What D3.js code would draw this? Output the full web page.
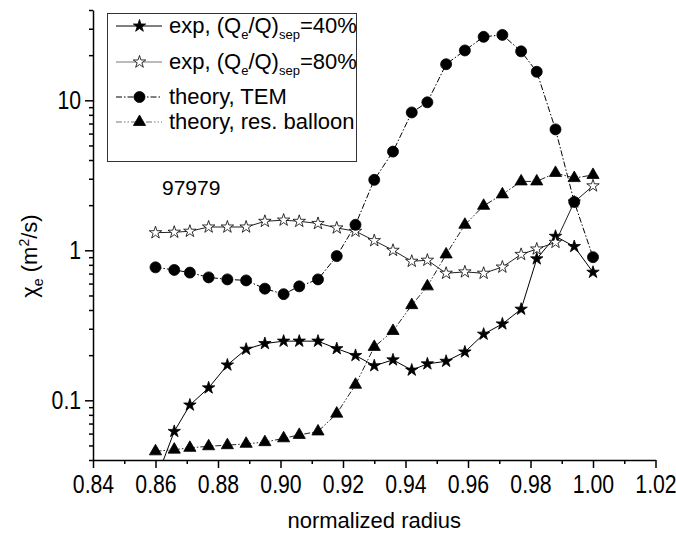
<!DOCTYPE html>
<html>
<head>
<meta charset="utf-8">
<script src="https://cdn.jsdelivr.net/npm/d3@7/dist/d3.min.js"></script>
<style>
  body { margin: 0; background: #fff; }
  #chiGraph { width: 676px; height: 536px; }
  svg { display: block; font-family: Arial, "Liberation Sans", sans-serif; }
</style>
</head>
<body>
<div id="chiGraph"></div>
<script>
/* global d3 */

// normalized radius of every point (same grid for all four curves)
var radius = [0.860, 0.866, 0.871, 0.877, 0.883, 0.889, 0.895, 0.901, 0.906, 0.912,
              0.918, 0.924, 0.930, 0.936, 0.942, 0.947, 0.953, 0.959, 0.965, 0.971,
              0.977, 0.982, 0.988, 0.994, 1.000];
// chi_e (m^2/s)
var exp40 = [0.029, 0.062, 0.093, 0.121, 0.172, 0.219, 0.239, 0.248, 0.248, 0.248,
             0.221, 0.199, 0.170, 0.186, 0.159, 0.175, 0.182, 0.210, 0.276, 0.323,
             0.405, 0.877, 1.24, 1.06, 0.714];
var exp80 = [1.31, 1.32, 1.34, 1.43, 1.43, 1.43, 1.56, 1.59, 1.56, 1.51,
             1.41, 1.34, 1.16, 1.00, 0.845, 0.859, 0.703, 0.718, 0.703, 0.773,
             0.939, 1.02, 1.13, 2.1, 2.69];
var tem = [0.77, 0.74, 0.71, 0.66, 0.64, 0.63, 0.555, 0.51, 0.575, 0.64,
           0.915, 1.48, 2.95, 4.55, 8.3, 9.7, 17.4, 21.5, 26.5, 27.3,
           21.2, 15.5, 6.4, 2.1, 0.9];
var balloon = [0.0457, 0.0469, 0.0482, 0.0494, 0.0502, 0.0513, 0.0526, 0.0558, 0.0588, 0.062,
               0.0815, 0.127, 0.227, 0.290, 0.431, 0.575, 0.939, 1.48, 1.98, 2.36,
               2.88, 2.88, 3.28, 3.03, 3.18];

var xTicks = [0.84, 0.86, 0.88, 0.90, 0.92, 0.94, 0.96, 0.98, 1.00, 1.02];
var yTicks = [0.1, 1, 10];
var seriesNames = ['exp40', 'exp80', 'tem', 'balloon'];
var shotLabel = '97979';

var W = 676, H = 536;
var margin = {top: 10, right: 20.5, bottom: 76, left: 93};

var svg = d3.select('#chiGraph').append('svg')
    .attr('width', W)
    .attr('height', H);

var x = d3.scaleLinear().domain([0.84, 1.02]).range([margin.left, W - margin.right]);
var y = d3.scaleLog().domain([0.04, 40]).range([H - margin.bottom, margin.top]);

svg.append('clipPath').attr('id', 'plotClip')
  .append('rect')
    .attr('x', x.range()[0])
    .attr('y', y.range()[1])
    .attr('width', x.range()[1] - x.range()[0])
    .attr('height', y.range()[0] - y.range()[1]);

// ---- axes ----
var xMinor = d3.range(0, 9).map(function (i) { return 0.85 + i * 0.02; });
var yMinor = y.ticks().filter(function (v) {
    return yTicks.indexOf(v) < 0;
});

var gx = svg.append('g')
    .attr('transform', 'translate(0,' + y.range()[0] + ')')
    .call(d3.axisBottom(x).tickValues(xTicks).tickSize(8).tickSizeOuter(0)
        .tickPadding(7).tickFormat(d3.format('.2f')));
svg.append('g')
    .attr('transform', 'translate(0,' + y.range()[0] + ')')
    .call(d3.axisBottom(x).tickValues(xMinor).tickSize(4).tickSizeOuter(0).tickFormat(''))
    .select('.domain').remove();

var gy = svg.append('g')
    .attr('transform', 'translate(' + x.range()[0] + ',0)')
    .call(d3.axisLeft(y).tickValues(yTicks).tickSize(8).tickSizeOuter(0)
        .tickPadding(6).tickFormat(function (d) { return d3.format('~g')(d); }));
svg.append('g')
    .attr('transform', 'translate(' + x.range()[0] + ',0)')
    .call(d3.axisLeft(y).tickValues(yMinor).tickSize(4).tickSizeOuter(0).tickFormat(''))
    .select('.domain').remove();

svg.selectAll('.domain, .tick line')
    .attr('stroke', '#000')
    .attr('stroke-width', 1.5);

// tick labels are a little condensed in the original
svg.selectAll('.tick text')
    .attr('font-size', 25)
    .attr('fill', '#000')
    .attr('transform', 'scale(0.85,1)');

// axis titles
svg.append('text')
    .attr('x', (x.range()[0] + x.range()[1]) / 2)
    .attr('y', 528)
    .attr('text-anchor', 'middle')
    .attr('font-size', 22)
    .text('normalized radius');

var yTitle = svg.append('text')
    .attr('transform', 'translate(37,256) rotate(-90)')
    .attr('text-anchor', 'middle')
    .attr('font-size', 22);
yTitle.append('tspan').text('\u03c7');
yTitle.append('tspan').attr('font-size', 14).attr('dy', 6).text('e');
yTitle.append('tspan').attr('dy', -6).text(' (m');
yTitle.append('tspan').attr('font-size', 14).attr('dy', -8).text('2');
yTitle.append('tspan').attr('dy', 8).text('/s)');

// ---- series ----
var styles = {
    exp40:   {values: exp40,   line: '#000', dash: null,              symbol: d3.symbolStar,     size: 48, fill: '#000'},
    exp80:   {values: exp80,   line: '#222', dash: null,              symbol: d3.symbolStar,     size: 48, fill: '#fff'},
    tem:     {values: tem,     line: '#000', dash: '6,2,1.5,2',       symbol: d3.symbolCircle,   size: 95, fill: '#000'},
    balloon: {values: balloon, line: '#222', dash: '6,2,1.5,2,1.5,2', symbol: d3.symbolTriangle, size: 64, fill: '#000'}
};

var plot = svg.append('g').attr('clip-path', 'url(#plotClip)');

var line = d3.line()
    .x(function (d) { return x(d[0]); })
    .y(function (d) { return y(d[1]); });

seriesNames.forEach(function (name) {
    var s = styles[name];
    var pts = radius.map(function (r, i) { return [r, s.values[i]]; });
    plot.append('path')
        .datum(pts)
        .attr('fill', 'none')
        .attr('stroke', s.line)
        .attr('stroke-width', 1)
        .attr('stroke-dasharray', s.dash)
        .attr('d', line);
    plot.selectAll('.m-' + name)
        .data(pts)
        .enter()
        .append('path')
        .attr('class', 'm-' + name)
        .attr('transform', function (d) {
            return 'translate(' + x(d[0]) + ',' + y(d[1]) + ')';
        })
        .attr('d', d3.symbol().type(s.symbol).size(s.size))
        .attr('fill', s.fill)
        .attr('stroke', '#000')
        .attr('stroke-width', 0.8);
});

// ---- legend ----
var legend = svg.append('g');
legend.append('rect')
    .attr('x', 107.5).attr('y', 13.5)
    .attr('width', 249).attr('height', 148)
    .attr('fill', '#fff')
    .attr('stroke', '#333')
    .attr('stroke-width', 1);

var legendRows = [
    {key: 'exp40',   y: 26, parts: [['exp, (Q'], ['e', 1], ['/Q)'], ['sep', 1], ['=40%']]},
    {key: 'exp80',   y: 62, parts: [['exp, (Q'], ['e', 1], ['/Q)'], ['sep', 1], ['=80%']]},
    {key: 'tem',     y: 97, parts: [['theory, TEM']]},
    {key: 'balloon', y: 122, parts: [['theory, res. balloon']]}
];

legendRows.forEach(function (row) {
    var s = styles[row.key];
    legend.append('line')
        .attr('x1', 116).attr('x2', 162)
        .attr('y1', row.y).attr('y2', row.y)
        .attr('stroke', row.key === 'exp80' || row.key === 'balloon' ? '#777' : '#000')
        .attr('stroke-width', 1)
        .attr('stroke-dasharray', s.dash);
    legend.append('path')
        .attr('transform', 'translate(139.5,' + row.y + ')')
        .attr('d', d3.symbol().type(s.symbol).size(s.size))
        .attr('fill', s.fill)
        .attr('stroke', '#000')
        .attr('stroke-width', 0.8);
    var t = legend.append('text')
        .attr('x', 169)
        .attr('y', row.y + 7)
        .attr('font-size', 22);
    var down = 0;
    row.parts.forEach(function (p) {
        var sub = p[1] === 1;
        var shift = (sub ? 6 : 0) - down;
        down = sub ? 6 : 0;
        var ts = t.append('tspan').attr('dy', shift).text(p[0]);
        if (sub) ts.attr('font-size', 13);
    });
});

svg.append('text')
    .attr('x', 162)
    .attr('y', 195)
    .attr('font-size', 21)
    .text(shotLabel);
</script>
</body>
</html>
